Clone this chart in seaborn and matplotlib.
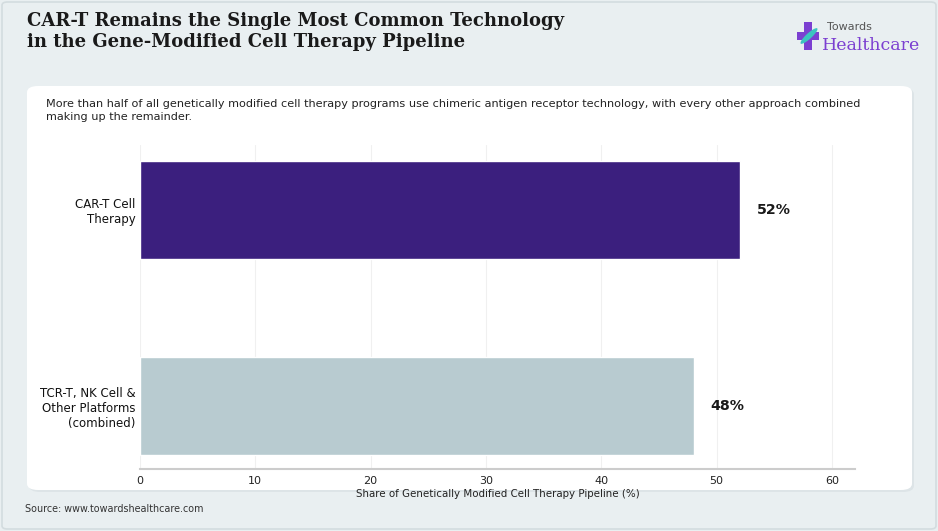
import matplotlib
matplotlib.use("Agg")
import matplotlib.pyplot as plt
import seaborn as sns
import pandas as pd
from matplotlib.patches import FancyBboxPatch, Rectangle, Ellipse

# chart data
categories = ["CAR-T Cell\nTherapy", "TCR-T, NK Cell &\nOther Platforms\n(combined)"]
shares = [52, 48]
bar_colors = ["#3b1f7e", "#b8cbd0"]
x_ticks = [0, 10, 20, 30, 40, 50, 60]

title = "CAR-T Remains the Single Most Common Technology\nin the Gene-Modified Cell Therapy Pipeline"
subtitle = ("More than half of all genetically modified cell therapy programs use chimeric antigen receptor technology, "
            "with every other approach combined\nmaking up the remainder.")
x_label = "Share of Genetically Modified Cell Therapy Pipeline (%)"
source = "Source: www.towardshealthcare.com"

sns.set_theme(style="white")
plt.rcParams["font.family"] = ["DejaVu Sans"]

W, H = 938, 531
fig = plt.figure(figsize=(W / 100, H / 100), dpi=100)
bg = "#e9eff1"
fig.patch.set_facecolor(bg)

# outer frame + white panel
fig.patches.append(FancyBboxPatch((2 / W, 2 / H), 934 / W, 527 / H, boxstyle="round,pad=0,rounding_size=0.006",
                                  transform=fig.transFigure, facecolor=bg, edgecolor="#d3dcdf", lw=1.2, zorder=0))
fig.patches.append(FancyBboxPatch((29 / W, 1 - 492 / H), 885 / W, 404 / H, boxstyle="round,pad=0,rounding_size=0.012",
                                  transform=fig.transFigure, facecolor="#dde4e7", edgecolor="none", zorder=0.5))
fig.patches.append(FancyBboxPatch((27 / W, 1 - 490 / H), 885 / W, 404 / H, boxstyle="round,pad=0,rounding_size=0.012",
                                  transform=fig.transFigure, facecolor="white", edgecolor="none", zorder=1))

fig.text(27 / W, 1 - 12 / H, title, ha="left", va="top", fontsize=13, fontweight="bold",
         family="DejaVu Serif", color="#1a1a1a", linespacing=1.2)
fig.text(46 / W, 1 - 99 / H, subtitle, ha="left", va="top", fontsize=8.1, color="#222222", linespacing=1.4)
fig.text(25 / W, 1 - 509 / H, source, ha="left", va="center", fontsize=6.95, color="#333333")

# logo
lx, ly = 797, 22
fig.patches.append(Rectangle(((lx + 7) / W, 1 - (ly + 28) / H), 8 / W, 28 / H, transform=fig.transFigure,
                             facecolor="#7b3fd1", edgecolor="none", zorder=2))
fig.patches.append(Rectangle((lx / W, 1 - (ly + 18) / H), 22 / W, 8 / H, transform=fig.transFigure,
                             facecolor="#7b3fd1", edgecolor="none", zorder=2))
fig.patches.append(Ellipse(((lx + 12) / W, 1 - (ly + 14) / H), 7 / W, 18 / H, angle=-30,
                           transform=fig.transFigure, facecolor="#3cc3c0", edgecolor="none", zorder=3))
fig.text(827 / W, 1 - 27 / H, "Towards", ha="left", va="center", fontsize=8, color="#555555")
fig.text(822 / W, 1 - 45 / H, "Healthcare", ha="left", va="center", fontsize=12.5, color="#7b3fd1",
         family="DejaVu Serif")

# main axes
ax = fig.add_axes([140 / W, 1 - 469 / H, 715 / W, 324 / H])
ax.set_facecolor("none")
ax.set_zorder(3)
df = pd.DataFrame({"category": categories, "share": shares})
sns.barplot(data=df, x="share", y="category", hue="category", palette=bar_colors, legend=False,
            orient="h", width=0.5, ax=ax, saturation=1)

for patch, val in zip(ax.patches, shares):
    y = patch.get_y() + patch.get_height() / 2
    ax.text(val + 1.45, y, f"{val}%", ha="left", va="center", fontsize=10.2, fontweight="bold", color="#1a1a1a")

ax.set_xlim(0, 62)
ax.set_ylim(1.32, -0.33)
ax.set_xticks(x_ticks)
ax.tick_params(axis="x", labelsize=8, colors="#222222", length=3, color="#cccccc", pad=2)
ax.tick_params(axis="y", labelsize=8.5, colors="#111111", length=0, pad=3)
ax.xaxis.grid(True, color="#f0f0f0", lw=0.8)
ax.set_axisbelow(True)
for s in ["top", "right", "left"]:
    ax.spines[s].set_visible(False)
ax.spines["bottom"].set_color("#cccccc")
ax.spines["bottom"].set_linewidth(1.5)
ax.set_xlabel(x_label, fontsize=7.4, color="#222222", labelpad=2)
ax.set_ylabel("")

fig.savefig("out.png", dpi=100, facecolor=fig.get_facecolor())
